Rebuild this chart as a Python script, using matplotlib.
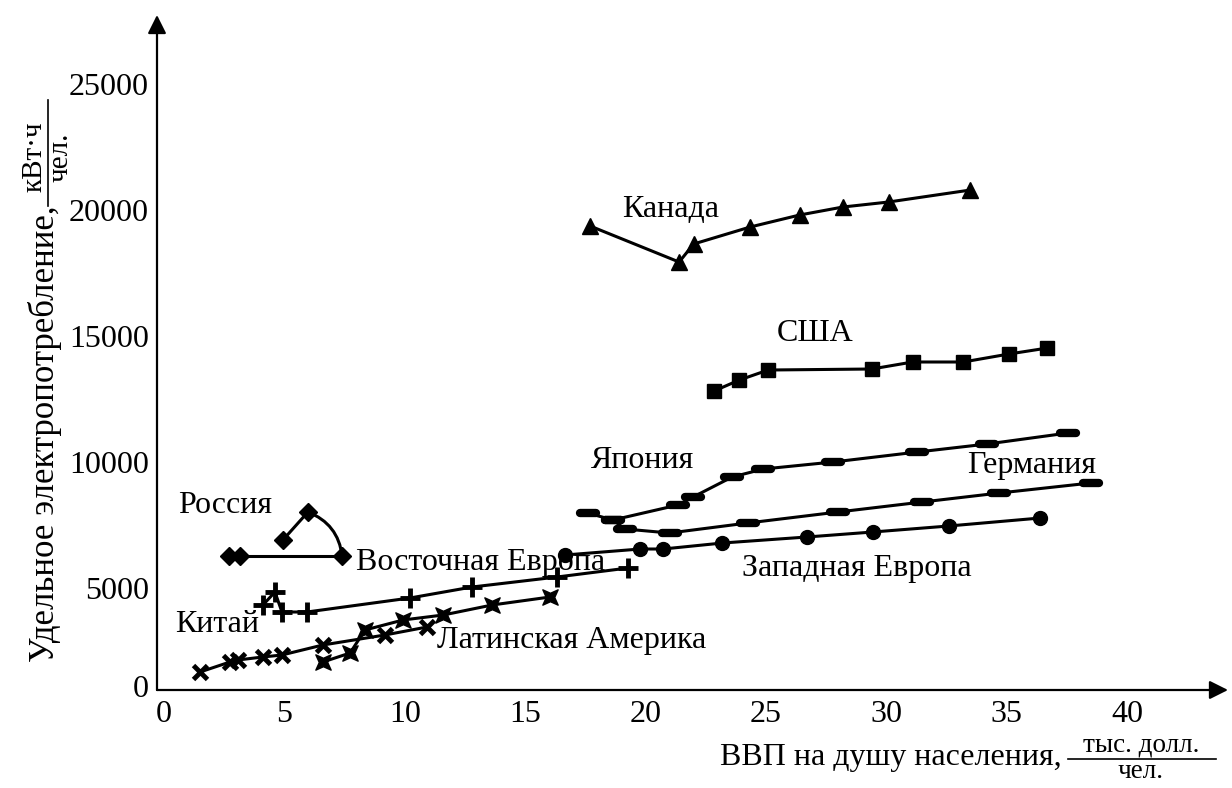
import matplotlib
matplotlib.use("Agg")
from matplotlib import pyplot as plt
from matplotlib.markers import MarkerStyle
from matplotlib.path import Path
from matplotlib.lines import Line2D

plt.rcParams['font.family'] = ['Liberation Serif', 'DejaVu Serif']

# --- данные ---
canada_x = [17.7, 21.4, 22.0, 24.35, 26.4, 28.2, 30.1, 33.5]
canada_y = [19365, 17935, 18650, 19325, 19800, 20118, 20317, 20793]

usa_x = [22.85, 23.9, 25.1, 29.4, 31.1, 33.2, 35.1, 36.7]
usa_y = [12817, 13253, 13650, 13690, 13968, 13968, 14285, 14523]

japan_x = [17.6, 18.65, 21.35, 21.98, 23.6, 24.9, 27.8, 31.3, 34.2, 37.55]
japan_y = [7976, 7698, 8293, 8611, 9404, 9722, 10000, 10396, 10714, 11150]

germany_x = [18.65, 19.15, 21.0, 24.25, 28.0, 31.5, 34.7, 38.5]
germany_y = [7698, 7341, 7182, 7579, 8015, 8412, 8769, 9166]

weu_x = [16.66, 19.78, 20.73, 23.2, 26.7, 29.45, 32.6, 36.4]
weu_y = [6309, 6547, 6547, 6785, 7023, 7222, 7460, 7777]

russia_x = [4.94, 5.98, 7.4, 3.16, 2.7]
russia_y = [6904, 8015, 6269, 6269, 6269]

china_x = [4.11, 4.61, 4.9, 5.94, 10.22, 12.8, 16.33, 19.28]
china_y = [4325, 4841, 4047, 4047, 4603, 5039, 5436, 5793]

latam_x = [1.5, 2.74, 3.07, 4.11, 4.9, 6.6, 9.18, 10.93]
latam_y = [1667, 2063, 2143, 2262, 2341, 2738, 3135, 3452]

eeu_x = [6.6, 7.73, 8.35, 9.93, 11.6, 13.63, 16.04]
eeu_y = [2063, 2420, 3333, 3730, 3928, 4325, 4643]

y_ticks = [5000, 10000, 15000, 20000, 25000]
x_ticks = [0, 5, 10, 15, 20, 25, 30, 35, 40]

W, H = 1232, 788
fig = plt.figure(figsize=(W / 100, H / 100), dpi=100)
ax = fig.add_axes([157 / W, 98 / H, 1071 / W, 675 / H])

y0 = 952
ax.set_xlim(-0.29, 44.2)
ax.set_ylim(y0, 27738)

lw = 2.2
k = 'black'
ax.plot(canada_x, canada_y, '-^', color=k, lw=lw, ms=11)
ax.plot(usa_x, usa_y, '-s', color=k, lw=lw, ms=10)
bar = MarkerStyle('_', capstyle='round')
ax.plot(japan_x, japan_y, '-', color=k, lw=lw, marker=bar, ms=11, mew=6)
ax.plot(germany_x, germany_y, '-', color=k, lw=lw, marker=bar, ms=11, mew=6)
ax.plot(weu_x, weu_y, '-o', color=k, lw=lw, ms=10)
ax.plot(china_x, china_y, '-+', color=k, lw=lw, ms=14, mew=3.5)
ax.plot(latam_x, latam_y, '-x', color=k, lw=lw, ms=10, mew=3.5)

star = Path([(1, 1), (0, 0.55), (-1, 1), (-0.55, 0), (-1, -1), (0, -0.55),
             (1, -1), (0.55, 0), (1, 1)],
            [Path.MOVETO] + [Path.LINETO] * 7 + [Path.CLOSEPOLY])
ax.plot(eeu_x, eeu_y, '-', color=k, lw=lw, marker=star, ms=11)

# Россия: петля с дугой
ax.plot(russia_x[:2], russia_y[:2], '-', color=k, lw=lw)
ax.plot(russia_x[2:], russia_y[2:], '-', color=k, lw=lw)
ax.annotate('', xy=(russia_x[2], russia_y[2]), xytext=(russia_x[1], russia_y[1]),
            arrowprops=dict(arrowstyle='-', color=k, lw=lw,
                            connectionstyle='arc3,rad=-0.3',
                            shrinkA=0, shrinkB=0))
ax.plot(russia_x, russia_y, 'D', color=k, ms=9, zorder=5)

fs = 23
labels = [('Канада', 21.06, 20000), ('США', 27.05, 15118), ('Япония', 19.86, 10079),
          ('Германия', 36.06, 9841), ('Россия', 2.53, 8293),
          ('Восточная Европа', 13.17, 5992), ('Западная Европа', 28.79, 5793),
          ('Китай', 2.2, 3532), ('Латинская Америка', 16.95, 2936)]
for t, x, y in labels:
    ax.text(x, y, t, fontsize=fs, ha='center', va='center')

# оси со стрелками
for s in ax.spines.values():
    s.set_visible(False)
ax.annotate('', xy=(0, 1), xytext=(0, 0), xycoords='axes fraction',
            arrowprops=dict(arrowstyle='-|>', color=k, lw=1.6, mutation_scale=28,
                            shrinkA=0, shrinkB=0))
ax.annotate('', xy=(1, 0), xytext=(0, 0), xycoords='axes fraction',
            arrowprops=dict(arrowstyle='-|>', color=k, lw=1.6, mutation_scale=28,
                            shrinkA=0, shrinkB=0))

ax.set_yticks([y0 + 150] + y_ticks)
ax.set_yticklabels(['0'] + [str(v) for v in y_ticks])
ax.set_xticks(x_ticks)
ax.set_xticklabels([str(v) for v in x_ticks])
ax.tick_params(length=0, labelsize=fs)
ax.tick_params(axis='x', pad=7)
ax.tick_params(axis='y', pad=6)

# подпись оси Y с дробью
def px(x, y):
    return x / W, 1 - y / H

fig.text(*px(45, 662), 'Удельное электропотребление,', fontsize=25,
         rotation=90, ha='center', va='bottom')
fig.text(*px(35, 157), 'кВт·ч', fontsize=21, rotation=90, ha='center', va='center')
fig.text(*px(61, 157), 'чел.', fontsize=21, rotation=90, ha='center', va='center')
fig.add_artist(Line2D([48 / W, 48 / W], [1 - 206 / H, 1 - 100 / H], color=k, lw=1.2))

# подпись оси X с дробью
fig.text(*px(1062, 758), 'ВВП на душу населения,', fontsize=fs, ha='right', va='center')
fig.text(*px(1141, 745), 'тыс. долл.', fontsize=19.5, ha='center', va='center')
fig.text(*px(1141, 772), 'чел.', fontsize=19.5, ha='center', va='center')
fig.add_artist(Line2D([1068 / W, 1216 / W], [1 - 759 / H, 1 - 759 / H], color=k, lw=1.2))

fig.savefig('out.png', dpi=100)
